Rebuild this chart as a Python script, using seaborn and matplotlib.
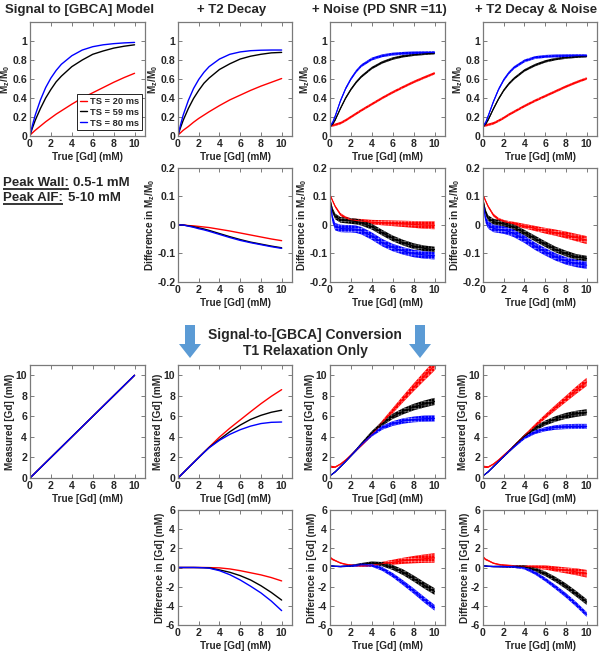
import numpy as np
import pandas as pd
import seaborn as sns
import matplotlib.pyplot as plt
from matplotlib.patches import FancyArrow
from matplotlib.ticker import FormatStrFormatter

# true [Gd] sample points (mM)
gd = [0, 0.25, 0.5, 1, 1.5, 2, 2.5, 3, 4, 5, 6, 7, 8, 9, 10]
ts = ["TS = 20 ms", "TS = 59 ms", "TS = 80 ms"]
colors = ["#ff0000", "#000000", "#0000ff"]
hatch_colors = ["#ff9c9c", "#8a8a8a", "#9c9cff"]

# row 1: Mz/M0 vs true [Gd]
sig_t1 = [
    [0.01, 0.035, 0.06, 0.105, 0.15, 0.19, 0.23, 0.265, 0.335, 0.40, 0.455, 0.51, 0.565, 0.615, 0.66],
    [0.01, 0.09, 0.165, 0.29, 0.40, 0.49, 0.57, 0.63, 0.73, 0.80, 0.86, 0.895, 0.925, 0.945, 0.96],
    [0.01, 0.12, 0.22, 0.38, 0.51, 0.61, 0.69, 0.755, 0.845, 0.905, 0.94, 0.96, 0.972, 0.98, 0.985],
]
sig_t2 = [
    [0.01, 0.035, 0.06, 0.10, 0.145, 0.185, 0.22, 0.255, 0.32, 0.38, 0.43, 0.48, 0.525, 0.565, 0.605],
    [0.01, 0.09, 0.165, 0.29, 0.395, 0.48, 0.555, 0.61, 0.70, 0.76, 0.81, 0.84, 0.86, 0.875, 0.88],
    [0.01, 0.12, 0.22, 0.375, 0.50, 0.595, 0.67, 0.73, 0.81, 0.86, 0.885, 0.898, 0.903, 0.905, 0.905],
]
sig_noise = [
    [0.11, 0.112, 0.118, 0.135, 0.165, 0.2, 0.235, 0.27, 0.335, 0.40, 0.46, 0.515, 0.568, 0.615, 0.66],
    [0.10, 0.125, 0.17, 0.29, 0.40, 0.49, 0.565, 0.625, 0.715, 0.775, 0.815, 0.84, 0.855, 0.865, 0.872],
    [0.10, 0.14, 0.21, 0.37, 0.50, 0.60, 0.68, 0.74, 0.81, 0.845, 0.862, 0.87, 0.875, 0.878, 0.88],
]
sig_noise_sd = [0.013, 0.013, 0.015]
sig_t2_noise = [
    [0.11, 0.112, 0.118, 0.133, 0.16, 0.19, 0.225, 0.255, 0.315, 0.37, 0.42, 0.47, 0.52, 0.565, 0.605],
    [0.10, 0.125, 0.17, 0.285, 0.39, 0.48, 0.55, 0.605, 0.69, 0.745, 0.785, 0.81, 0.825, 0.835, 0.84],
    [0.10, 0.14, 0.21, 0.36, 0.49, 0.59, 0.665, 0.72, 0.79, 0.825, 0.838, 0.843, 0.845, 0.846, 0.846],
]
sig_t2_noise_sd = [0.013, 0.013, 0.015]

# row 2: difference in Mz/M0
diff_t2 = [
    [0, 0, 0, -0.002, -0.003, -0.005, -0.007, -0.009, -0.015, -0.021, -0.028, -0.035, -0.042, -0.049, -0.055],
    [0, 0, 0, -0.003, -0.006, -0.01, -0.014, -0.019, -0.03, -0.041, -0.051, -0.06, -0.067, -0.074, -0.08],
    [0, 0, 0, -0.004, -0.008, -0.013, -0.017, -0.022, -0.033, -0.044, -0.054, -0.062, -0.069, -0.076, -0.082],
]
diff_noise = [
    [0.106, 0.085, 0.065, 0.037, 0.025, 0.018, 0.016, 0.014, 0.01, 0.008, 0.006, 0.004, 0.002, 0.0, -0.001],
    [0.088, 0.05, 0.03, 0.018, 0.016, 0.014, 0.012, 0.008, -0.006, -0.027, -0.047, -0.062, -0.074, -0.082, -0.086],
    [0.082, 0.02, -0.006, -0.012, -0.013, -0.013, -0.015, -0.02, -0.039, -0.062, -0.079, -0.091, -0.1, -0.105, -0.108],
]
diff_noise_sd = [
    [0.004, 0.004, 0.004, 0.005, 0.005, 0.006, 0.006, 0.007, 0.008, 0.009, 0.01, 0.011, 0.012, 0.013, 0.014],
    0.01, 0.013,
]
diff_t2_noise = [
    [0.106, 0.085, 0.065, 0.035, 0.02, 0.012, 0.008, 0.004, -0.004, -0.012, -0.02, -0.027, -0.035, -0.044, -0.053],
    [0.088, 0.045, 0.024, 0.012, 0.008, 0.004, -0.001, -0.008, -0.027, -0.047, -0.067, -0.086, -0.1, -0.112, -0.118],
    [0.082, 0.02, 0.0, -0.012, -0.015, -0.018, -0.023, -0.03, -0.05, -0.074, -0.094, -0.112, -0.126, -0.135, -0.141],
]
diff_t2_noise_sd = diff_noise_sd

# row 3: measured [Gd]
meas_t1 = [0, 0.25, 0.5, 1, 1.5, 2, 2.5, 3, 4, 5, 6, 7, 8, 9, 10]
meas_t2 = [
    [0, 0.25, 0.5, 1, 1.5, 2, 2.5, 3, 3.98, 4.85, 5.65, 6.45, 7.23, 7.95, 8.6],
    [0, 0.25, 0.5, 1, 1.5, 2, 2.49, 2.97, 3.75, 4.5, 5.15, 5.7, 6.1, 6.4, 6.6],
    [0, 0.25, 0.5, 1, 1.5, 1.99, 2.48, 2.94, 3.67, 4.25, 4.7, 5.05, 5.3, 5.42, 5.45],
]
meas_noise = [
    [1.1, 1.07, 1.06, 1.35, 1.75, 2.22, 2.7, 3.17, 4.22, 5.4, 6.55, 7.7, 8.82, 9.9, 10.95],
    [0.22, 0.4, 0.6, 1.1, 1.62, 2.17, 2.72, 3.3, 4.4, 5.3, 6.0, 6.5, 6.9, 7.2, 7.45],
    [0.22, 0.4, 0.6, 1.1, 1.62, 2.17, 2.7, 3.25, 4.2, 4.9, 5.3, 5.55, 5.7, 5.78, 5.8],
]
meas_noise_sd = [
    [0.12, 0.1, 0.08, 0.07, 0.07, 0.08, 0.09, 0.1, 0.14, 0.2, 0.26, 0.32, 0.38, 0.44, 0.5],
    [0.04, 0.05, 0.06, 0.07, 0.08, 0.1, 0.12, 0.14, 0.18, 0.22, 0.26, 0.3, 0.32, 0.34, 0.35],
    [0.04, 0.05, 0.06, 0.07, 0.08, 0.1, 0.12, 0.14, 0.17, 0.2, 0.23, 0.26, 0.28, 0.3, 0.3],
]
meas_t2_noise = [
    [1.1, 1.07, 1.06, 1.35, 1.75, 2.2, 2.65, 3.12, 4.1, 5.05, 5.98, 6.85, 7.7, 8.55, 9.35],
    [0.2, 0.4, 0.6, 1.1, 1.6, 2.1, 2.6, 3.1, 4.05, 4.8, 5.35, 5.75, 6.05, 6.25, 6.4],
    [0.2, 0.4, 0.6, 1.1, 1.6, 2.1, 2.6, 3.05, 3.92, 4.45, 4.75, 4.92, 5.0, 5.02, 5.02],
]
meas_t2_noise_sd = [
    [0.12, 0.1, 0.08, 0.07, 0.07, 0.08, 0.09, 0.1, 0.13, 0.18, 0.22, 0.27, 0.31, 0.36, 0.4],
    [0.04, 0.05, 0.06, 0.07, 0.08, 0.1, 0.12, 0.14, 0.18, 0.21, 0.24, 0.27, 0.29, 0.3, 0.3],
    [0.04, 0.05, 0.06, 0.07, 0.08, 0.1, 0.11, 0.12, 0.15, 0.18, 0.2, 0.22, 0.24, 0.25, 0.25],
]

# row 4: difference in [Gd]
diffgd_t2 = [
    [0, 0, 0, 0, 0, 0, 0, -0.01, -0.04, -0.15, -0.33, -0.55, -0.77, -1.05, -1.4],
    [0, 0, 0, 0, 0, -0.01, -0.02, -0.04, -0.25, -0.5, -0.85, -1.3, -1.9, -2.6, -3.4],
    [0, 0, 0, 0, 0, -0.01, -0.03, -0.07, -0.33, -0.75, -1.3, -1.95, -2.65, -3.5, -4.5],
]
diffgd_noise = [
    [1.05, 0.85, 0.72, 0.47, 0.33, 0.25, 0.2, 0.18, 0.22, 0.4, 0.55, 0.7, 0.82, 0.92, 1.0],
    [0.18, 0.15, 0.12, 0.1, 0.13, 0.17, 0.25, 0.33, 0.45, 0.35, 0.0, -0.5, -1.15, -1.85, -2.5],
    [0.18, 0.15, 0.12, 0.1, 0.13, 0.17, 0.22, 0.28, 0.25, -0.15, -0.8, -1.6, -2.45, -3.35, -4.2],
]
diffgd_t2_noise = [
    [1.1, 0.85, 0.72, 0.45, 0.32, 0.25, 0.2, 0.15, 0.1, 0.05, 0.0, -0.15, -0.3, -0.45, -0.65],
    [0.18, 0.15, 0.12, 0.1, 0.1, 0.1, 0.1, 0.1, 0.05, -0.2, -0.65, -1.25, -1.95, -2.75, -3.6],
    [0.18, 0.15, 0.12, 0.1, 0.1, 0.1, 0.1, 0.08, -0.05, -0.55, -1.25, -2.05, -2.9, -3.85, -4.9],
]

titles = ["Signal to [GBCA] Model", "+ T2 Decay", "+ Noise (PD SNR =11)", "+ T2 Decay & Noise"]

sns.set_style("ticks")
plt.rcParams.update({
    "font.family": "Liberation Sans",
    "font.weight": "bold",
    "axes.labelweight": "bold",
    "axes.unicode_minus": False,
    "mathtext.fontset": "custom",
    "mathtext.rm": "Liberation Sans:bold",
    "mathtext.bf": "Liberation Sans:bold",
    "mathtext.it": "Liberation Sans:bold",
    "mathtext.default": "bf",
    "hatch.linewidth": 0.35,
})

fig = plt.figure(figsize=(6, 6.52), dpi=100)
W, H = 600, 652
cols = [(30, 115), (178, 114), (330, 115), (483, 114)]
rows = [(22, 114), (168, 114), (365, 113), (510, 115)]


def make_ax(r, c):
    l, w = cols[c]
    t, h = rows[r]
    return fig.add_axes([l / W, 1 - (t + h) / H, w / W, h / H])


def style(ax, ylim, yticks, ylabel, lpad=0.5):
    ax.set_xlim(0, 11)
    ax.set_ylim(*ylim)
    ax.set_xticks([0, 2, 4, 6, 8, 10])
    ax.set_yticks(yticks)
    ax.yaxis.set_major_formatter(FormatStrFormatter("%g"))
    ax.set_xlabel("True [Gd] (mM)", fontsize=7.2, labelpad=2)
    ax.set_ylabel(ylabel, fontsize=7.2, labelpad=lpad)
    ax.tick_params(direction="in", top=True, right=True, length=3, width=0.6,
                   color="#666666", pad=2, labelsize=7.6)
    for s in ax.spines.values():
        s.set_color("#7a7a7a")
        s.set_linewidth(0.9)


def draw_lines(ax, curves):
    for name, c, ys in zip(ts, colors, curves):
        df = pd.DataFrame({"gd": gd, "y": ys})
        sns.lineplot(data=df, x="gd", y="y", color=c, lw=1.0, label=name,
                     legend=False, ax=ax)


def draw_bands(ax, curves, spreads):
    for c, hc, ys, sd in zip(colors, hatch_colors, curves, spreads):
        ys = np.asarray(ys, float)
        sd = np.broadcast_to(np.asarray(sd, float), ys.shape)
        df = pd.DataFrame({"gd": gd + gd, "y": np.concatenate([ys - sd, ys + sd])})
        n = len(ax.collections)
        sns.lineplot(data=df, x="gd", y="y", color=c, lw=0.8, errorbar=("pi", 100),
                     err_kws=dict(alpha=1, lw=0), legend=False, ax=ax)
        band = ax.collections[n]
        band.set_facecolor(c)
        band.set_hatch("+++++")
        band.set_edgecolor(hc)
        band.set_linewidth(0)


mz = r"M$_z$/M$_0$"
dmz = r"Difference in M$_z$/M$_0$"
row1 = dict(ylim=(0, 1.2), yticks=[0, 0.2, 0.4, 0.6, 0.8, 1], ylabel=mz, lpad=0)
row2 = dict(ylim=(-0.2, 0.2), yticks=[-0.2, -0.1, 0, 0.1, 0.2], ylabel=dmz)
row3 = dict(ylim=(0, 11), yticks=[0, 2, 4, 6, 8, 10], ylabel="Measured [Gd] (mM)")
row4 = dict(ylim=(-6, 6), yticks=[-6, -4, -2, 0, 2, 4, 6], ylabel="Difference in [Gd] (mM)")

# row 1
ax = make_ax(0, 0)
draw_lines(ax, sig_t1)
style(ax, **row1)
leg = ax.legend(loc="lower right", bbox_to_anchor=(0.975, 0.05), borderaxespad=0,
                fontsize=6.7, handlelength=0.8, handletextpad=0.3, labelspacing=0.2,
                borderpad=0.3, fancybox=False, edgecolor="black", framealpha=1)
leg.get_frame().set_linewidth(0.6)

ax = make_ax(0, 1)
draw_lines(ax, sig_t2)
style(ax, **row1)

ax = make_ax(0, 2)
draw_bands(ax, sig_noise, sig_noise_sd)
style(ax, **row1)

ax = make_ax(0, 3)
draw_bands(ax, sig_t2_noise, sig_t2_noise_sd)
style(ax, **row1)

# row 2
ax = make_ax(1, 1)
draw_lines(ax, diff_t2)
style(ax, **row2)

ax = make_ax(1, 2)
draw_bands(ax, diff_noise, diff_noise_sd)
style(ax, **row2)

ax = make_ax(1, 3)
draw_bands(ax, diff_t2_noise, diff_t2_noise_sd)
style(ax, **row2)

# row 3
ax = make_ax(2, 0)
draw_lines(ax, [meas_t1, meas_t1, meas_t1])
style(ax, **row3)

ax = make_ax(2, 1)
draw_lines(ax, meas_t2)
style(ax, **row3)

ax = make_ax(2, 2)
draw_bands(ax, meas_noise, meas_noise_sd)
style(ax, **row3)

ax = make_ax(2, 3)
draw_bands(ax, meas_t2_noise, meas_t2_noise_sd)
style(ax, **row3)

# row 4
ax = make_ax(3, 1)
draw_lines(ax, diffgd_t2)
style(ax, **row4)

ax = make_ax(3, 2)
draw_bands(ax, diffgd_noise, meas_noise_sd)
style(ax, **row4)

ax = make_ax(3, 3)
draw_bands(ax, diffgd_t2_noise, meas_t2_noise_sd)
style(ax, **row4)

# overlay in pixel coordinates for titles, notes and arrows
over = fig.add_axes([0, 0, 1, 1])
over.set_xlim(0, W)
over.set_ylim(H, 0)
over.axis("off")

for x, t in zip([80, 232, 379, 536], titles):
    over.text(x, 13, t, ha="center", va="baseline", fontsize=9.5, fontweight="bold")

note_kw = dict(fontsize=9.5, fontweight="bold", va="baseline")
t1 = over.text(3, 186, "Peak Wall:", **note_kw)
over.text(73, 186, "0.5-1 mM", **note_kw)
t2 = over.text(3, 201, "Peak AIF:", **note_kw)
over.text(68, 201, "5-10 mM", **note_kw)

over.text(305, 339, "Signal-to-[GBCA] Conversion", ha="center", va="baseline",
          fontsize=10, fontweight="bold")
over.text(305, 355, "T1 Relaxation Only", ha="center", va="baseline",
          fontsize=10, fontweight="bold")

for x in (190, 420):
    over.add_patch(FancyArrow(x, 325, 0, 33, width=10, head_width=22, head_length=14,
                              length_includes_head=True, color="#5b9bd5", lw=0))

fig.canvas.draw()
inv = over.transData.inverted()
for t, y in ((t1, 188.5), (t2, 203.5)):
    bb = t.get_window_extent()
    x0 = inv.transform((bb.x0, bb.y0))[0]
    x1 = inv.transform((bb.x1, bb.y0))[0]
    over.plot([x0, x1], [y, y], color="black", lw=1.1, solid_capstyle="butt")
over.set_xlim(0, W)
over.set_ylim(H, 0)

fig.savefig("out.png", dpi=100)
